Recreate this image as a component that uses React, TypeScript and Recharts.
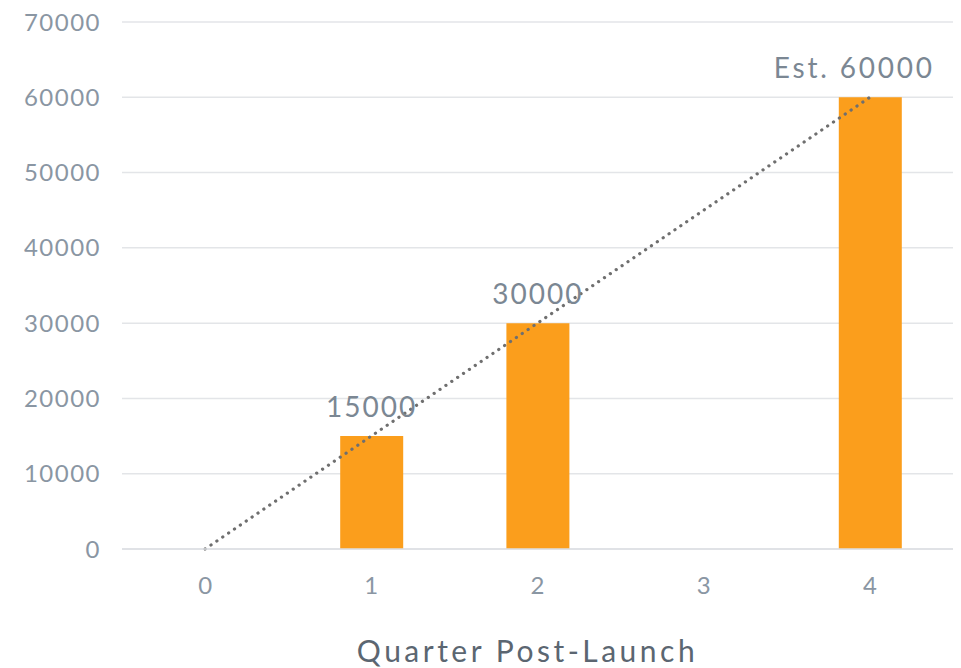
import {
  ComposedChart,
  Bar,
  Line,
  XAxis,
  YAxis,
  CartesianGrid,
  LabelList,
  Label,
} from "recharts";

const quarters = ["0", "1", "2", "3", "4"];
const users = [null, 15000, 30000, null, 60000];
const trend = [0, 15000, 30000, 45000, 60000];
const barLabels = ["", "15000", "30000", "", "Est. 60000"];
const yTicks = [0, 10000, 20000, 30000, 40000, 50000, 60000, 70000];

const data = quarters.map((q, i) => ({
  quarter: q,
  users: users[i],
  trend: trend[i],
  label: barLabels[i],
}));

const FONT = "Lato, 'Open Sans', sans-serif";

const BarValue = (props: any) => {
  const { x, y, width, value } = props;
  if (!value) return null;
  // the estimate label sits a little to the left of its bar
  const isEst = String(value).startsWith("Est");
  return (
    <text
      x={x + width / 2 + (isEst ? -16 : 0)}
      y={y - 19}
      textAnchor="middle"
      fill="#7b8793"
      fontSize={28}
      fontFamily={FONT}
      letterSpacing={isEst ? 2.8 : 2}
    >
      {value}
    </text>
  );
};

const App = () => {
  return (
    <div style={{ position: "absolute", left: 0, top: 0 }}>
      <ComposedChart
        width={961}
        height={668}
        data={data}
        margin={{ top: 22, right: 8, bottom: 0, left: 0 }}
        barCategoryGap={0}
      >
        <CartesianGrid vertical={false} stroke="#e3e5e8" strokeWidth={1.5} />
        <XAxis
          dataKey="quarter"
          height={119}
          tickLine={false}
          tickSize={0}
          tickMargin={28}
          axisLine={{ stroke: "#dcdfe3", strokeWidth: 1.5 }}
          tick={{ fill: "#8a96a3", fontSize: 24, fontFamily: FONT }}
        >
          <Label
            value="Quarter Post-Launch"
            position="insideBottom"
            offset={6}
            fill="#5b6671"
            fontSize={30}
            fontFamily={FONT}
            letterSpacing={3.5}
            dx={-10}
          />
        </XAxis>
        <YAxis
          width={122}
          domain={[0, 70000]}
          ticks={yTicks}
          interval={0}
          tickLine={false}
          tickSize={0}
          tickMargin={21}
          axisLine={false}
          tick={{
            fill: "#8a96a3",
            fontSize: 24,
            fontFamily: FONT,
            letterSpacing: 1.5,
          }}
        />
        <Bar
          dataKey="users"
          fill="#fb9e1c"
          barSize={63}
          isAnimationActive={false}
        >
          <LabelList dataKey="label" content={<BarValue />} />
        </Bar>
        <Line
          dataKey="trend"
          type="linear"
          stroke="#6f6f6f"
          strokeWidth={3.2}
          strokeDasharray="0.1 7"
          strokeLinecap="round"
          dot={false}
          activeDot={false}
          isAnimationActive={false}
        />
      </ComposedChart>
    </div>
  );
};

export default App;
